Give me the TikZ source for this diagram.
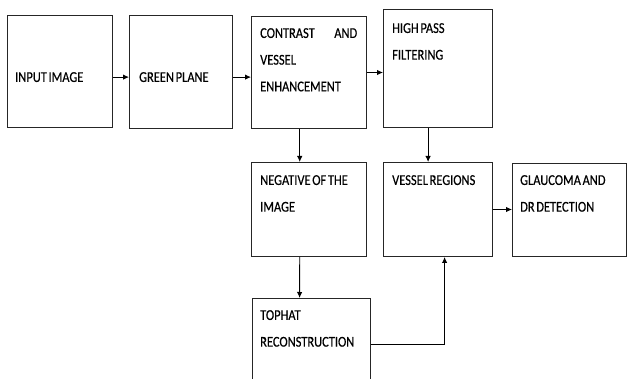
\documentclass[tikz,border=0pt]{standalone}
\usepackage{fontspec}
\setmainfont[FakeStretch=0.83,WordSpace=0.6,FakeBold=0.4]{Carlito}
\usepackage{tikz}
\usetikzlibrary{arrows.meta,positioning,calc}
\tikzset{
  blk/.style={rectangle,draw=black!85,line width=1pt,anchor=north west,inner sep=0pt},
  blktxt/.style={anchor=north west,inner sep=0pt,align=left,text=black},
  arr/.style={->,black,line width=0.9pt}
}

\begin{document}
\begin{tikzpicture}[x=1pt,y=-1pt,>={Latex[length=6pt,width=5.5pt]},font=\fontsize{15}{26.7}\selectfont]
  \useasboundingbox (0,0) rectangle (627,379);
  \clip (0,0) rectangle (627,379);
  % blocks
  \node[blk,minimum width=105pt,minimum height=112pt] (inp) at (7,15) {};
  \node[blk,minimum width=103pt,minimum height=113pt] (grn) at (129,15) {};
  \node[blk,minimum width=115pt,minimum height=112pt] (cve) at (251,16) {};
  \node[blk,minimum width=109pt,minimum height=118pt] (hpf) at (383,9) {};
  \node[blk,minimum width=115pt,minimum height=94pt] (neg) at (251,162) {};
  \node[blk,minimum width=109pt,minimum height=94pt] (ves) at (383,162) {};
  \node[blk,minimum width=114pt,minimum height=93pt] (gdr) at (512,163) {};
  \node[blk,minimum width=118pt,minimum height=92pt] (top) at (252,298) {};
  % texts
  \node[blktxt] (inpt) at (15,72) {INPUT IMAGE};
  \node[blktxt] (grnt) at (139,72) {GREEN PLANE};
  \node[blktxt,text width=97pt] (cvet) at (260,28) {CONTRAST\hfill AND\\VESSEL\\ENHANCEMENT};
  \node[blktxt] (hpft) at (392,23) {HIGH PASS\\FILTERING};
  \node[blktxt] (negt) at (260,175) {NEGATIVE OF THE\\IMAGE};
  \node[blktxt] (vest) at (392,175) {VESSEL REGIONS};
  \node[blktxt] (gdrt) at (520,175) {GLAUCOMA AND\\DR DETECTION};
  \node[blktxt] (topt) at (260,310) {TOPHAT\\RECONSTRUCTION};
  % connectors
  \draw[arr] (inp.east |- inpt) -- (grn.west |- inpt);
  \draw[arr] (grn.east |- grnt) -- (cve.west |- grnt);
  \draw[arr] (cve.east) -- (cve.east -| hpf.west);
  \draw[arr] ($(cve.south west)!0.42!(cve.south east)$) -- ($(neg.north west)!0.42!(neg.north east)$);
  \draw[arr] ($(hpf.south west)!0.41!(hpf.south east)$) -- ($(ves.north west)!0.41!(ves.north east)$);
  \draw[arr] ($(neg.south west)!0.42!(neg.south east)$) -- ($(top.north west)!0.4!(top.north east)$);
  \draw[arr] (top.east) -| ($(ves.south west)!0.56!(ves.south east)$);
  \draw[arr] (ves.east) -- (ves.east -| gdr.west);
\end{tikzpicture}
\end{document}
